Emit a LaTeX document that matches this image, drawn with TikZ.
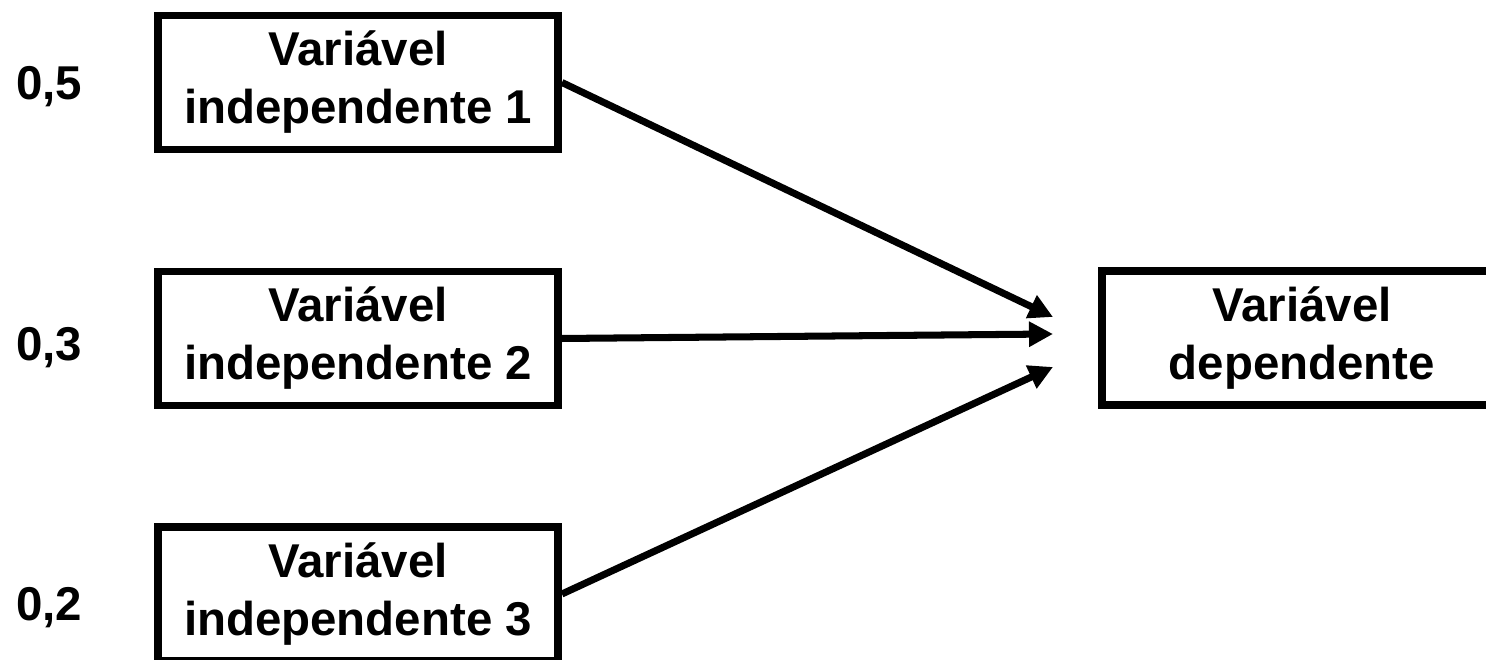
\documentclass[tikz,border=0pt]{standalone}
\usepackage{fontspec}
\setmainfont{Liberation Sans}
\usetikzlibrary{positioning,arrows.meta}
\tikzstyle{var} = [rectangle, draw=black, line width=4.5pt, fill=white, text=black, align=center, font=\bfseries\fontsize{27}{33}\selectfont, minimum width=8.0cm, minimum height=2.68cm, inner sep=0pt]
\tikzstyle{weight} = [text=black, font=\bfseries\fontsize{27}{33}\selectfont, anchor=base, inner sep=0pt]

\begin{document}
\begin{tikzpicture}[
  link/.style={-{Triangle[length=0.48cm,width=0.48cm]}, line width=4pt}]
  \useasboundingbox (0,0) rectangle (29.72,13.2);
  % draw independent variables with their weights
  \foreach \w/\y/\wy [count=\step from 1] in {{0,5}/11.55/11.2,{0,3}/6.43/5.98,{0,2}/1.32/0.78} {
    \node[var] (v\step) at (7.16, \y) {Variável\\independente \step};
    \node[weight] (w\step) at (0.98, \wy) {\w};
  }
  % draw dependent variable
  \node[var] (dep) at (26.04, 6.44) {Variável\\dependente};
  % arrow tips stop short of the dependent box
  \coordinate (t1) at (21.06, 6.86);
  \coordinate (t2) at (21.06, 6.52);
  \coordinate (t3) at (21.06, 5.86);
  % draw links
  \foreach \step in {1,...,3}
    \draw[link] (v\step.east) -- (t\step);
\end{tikzpicture}
\end{document}
